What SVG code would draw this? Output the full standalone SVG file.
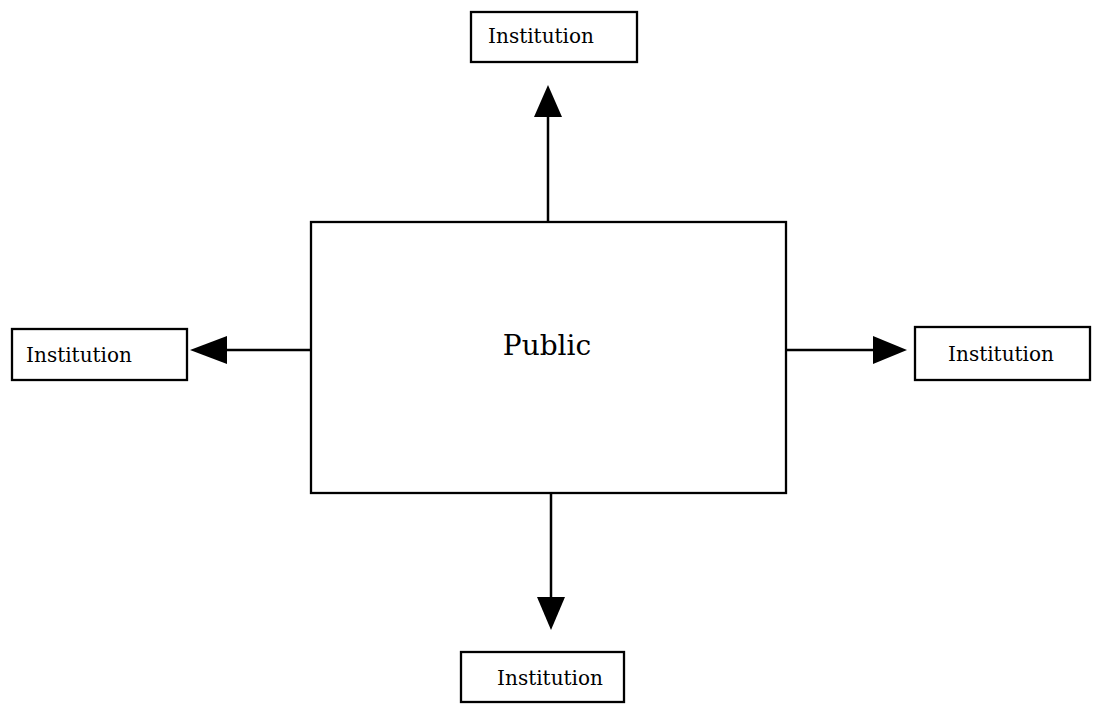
<svg xmlns="http://www.w3.org/2000/svg" width="1093" height="704" viewBox="0 0 1093 704">
  <style>
    .box { fill: #ffffff; stroke: #000000; stroke-width: 2.3; }
    .lbl { font-family: "DejaVu Serif", "Liberation Serif", serif; font-size: 20px; fill: #000000; text-anchor: middle; }
    .main { font-family: "DejaVu Serif", "Liberation Serif", serif; font-size: 28px; fill: #000000; text-anchor: middle; }
    .link { stroke: #000000; stroke-width: 2.5; fill: none; }
    .head { fill: #000000; }
  </style>
  <rect width="1093" height="704" fill="#ffffff"/>

  <!-- links from the central box out to each institution -->
  <g id="connectors">
    <line class="link" x1="548" y1="222" x2="548" y2="114"/>
    <polygon class="head" points="548,85 534,117 562,117"/>
    <line class="link" x1="551" y1="493" x2="551" y2="600"/>
    <polygon class="head" points="551,630 537,597 565,597"/>
    <line class="link" x1="311" y1="350" x2="224" y2="350"/>
    <polygon class="head" points="190,350 227,336 227,364"/>
    <line class="link" x1="786" y1="350" x2="876" y2="350"/>
    <polygon class="head" points="907,350 873,336 873,364"/>
  </g>

  <g id="public">
    <rect class="box" x="311" y="222" width="475" height="271"/>
    <text class="main" x="547" y="355">Public</text>
  </g>

  <g id="institution-top">
    <rect class="box" x="471" y="12" width="166" height="50"/>
    <text class="lbl" x="541" y="43">Institution</text>
  </g>

  <g id="institution-left">
    <rect class="box" x="12" y="329" width="175" height="51"/>
    <text class="lbl" x="79" y="362">Institution</text>
  </g>

  <g id="institution-right">
    <rect class="box" x="915" y="327" width="175" height="53"/>
    <text class="lbl" x="1001" y="361">Institution</text>
  </g>

  <g id="institution-bottom">
    <rect class="box" x="461" y="652" width="163" height="50"/>
    <text class="lbl" x="550" y="685">Institution</text>
  </g>
</svg>
